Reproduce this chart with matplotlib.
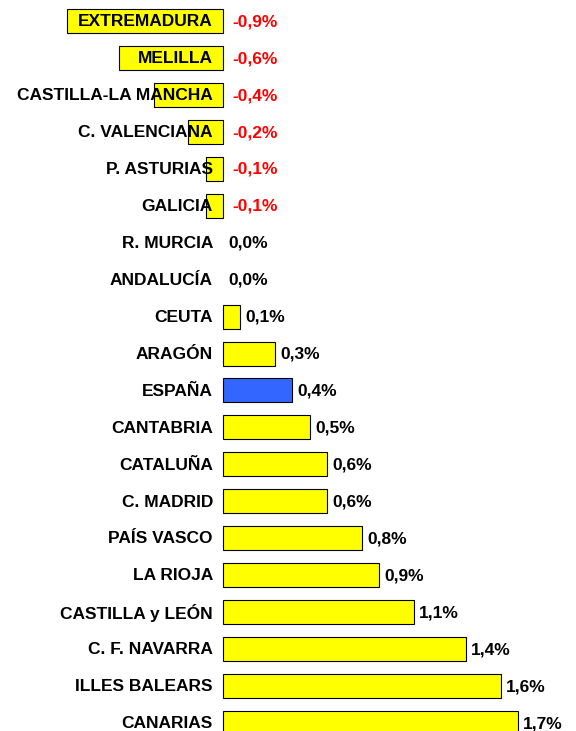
import matplotlib
matplotlib.use('Agg')
import matplotlib.pyplot as plt
import numpy as np

plt.rcParams['font.family'] = ['Liberation Sans', 'DejaVu Sans']

regions = ['EXTREMADURA', 'MELILLA', 'CASTILLA-LA MANCHA', 'C. VALENCIANA',
           'P. ASTURIAS', 'GALICIA', 'R. MURCIA', 'ANDALUCÍA', 'CEUTA',
           'ARAGÓN', 'ESPAÑA', 'CANTABRIA', 'CATALUÑA', 'C. MADRID',
           'PAÍS VASCO', 'LA RIOJA', 'CASTILLA y LEÓN', 'C. F. NAVARRA',
           'ILLES BALEARS', 'CANARIAS']
values = [-0.9, -0.6, -0.4, -0.2, -0.1, -0.1, 0.0, 0.0, 0.1, 0.3,
          0.4, 0.5, 0.6, 0.6, 0.8, 0.9, 1.1, 1.4, 1.6, 1.7]
highlight = 'ESPAÑA'

fig = plt.figure(figsize=(5.76, 7.31), dpi=100)
ax = fig.add_axes([0, 0, 1, 1])

y = np.arange(len(regions))
colors = ['#3366FF' if r == highlight else '#FFFF00' for r in regions]
widths = [0.8 if v != 0 else 0 for v in values]
ax.barh(y, values, height=0.65, color=colors, edgecolor='black',
        linewidth=widths, zorder=1)

for i, (name, v) in enumerate(zip(regions, values)):
    # region names sit left of zero, drawn over the bars
    ax.annotate(name, (0, i), xytext=(-7.2, -0.5), textcoords='offset points',
                ha='right', va='center', fontsize=12.5, fontweight='bold',
                zorder=3)
    txt = '{:.1f}%'.format(v).replace('.', ',')
    if v < 0:
        ax.annotate(txt, (0, i), xytext=(7.0, -0.5), textcoords='offset points',
                    ha='left', va='center', fontsize=12.5, fontweight='bold',
                    color='#FF0000', zorder=3)
    else:
        ax.annotate(txt, (v, i), xytext=(3.8, -0.5), textcoords='offset points',
                    ha='left', va='center', fontsize=12.5, fontweight='bold',
                    color='black', zorder=3)

ax.set_xlim(-1.285, 2.035)
ax.set_ylim(19.216, -0.568)
ax.axis('off')

fig.savefig('out.png', dpi=100, facecolor='white')
